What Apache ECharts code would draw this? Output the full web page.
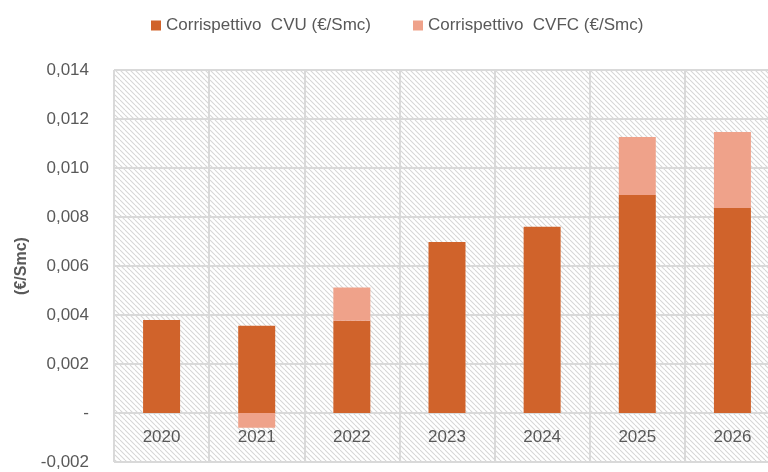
<!DOCTYPE html>
<html>
<head>
<meta charset="utf-8">
<script src="https://cdn.jsdelivr.net/npm/echarts@6/dist/echarts.min.js"></script>
<style>
  html, body { margin: 0; padding: 0; background: #fff; }
  #chart { width: 768px; height: 472px; }
</style>
</head>
<body>
<div id="chart"></div>
<script>
// values
const years = ['2020', '2021', '2022', '2023', '2024', '2025', '2026'];
const cvu = [0.0038, 0.00356, 0.00377, 0.00698, 0.0076, 0.0089, 0.00837];
const cvfc = [0, -0.0006, 0.00135, 0, 0, 0.00237, 0.0031];

const font = "'Liberation Sans', Arial, sans-serif";

// diagonal hatch for the plot background
function hatch() {
  const c = document.createElement('canvas');
  c.width = 5; c.height = 5;
  const ctx = c.getContext('2d');
  ctx.fillStyle = '#fff';
  ctx.fillRect(0, 0, 5, 5);
  ctx.strokeStyle = '#d6d6d6';
  ctx.lineWidth = 1.1;
  [-5, 0, 5].forEach(k => {
    ctx.beginPath();
    ctx.moveTo(k, 0);
    ctx.lineTo(k + 5, 5);
    ctx.stroke();
  });
  return c;
}

function fmt(v) {
  if (Math.abs(v) < 1e-9) return '-';
  return v.toFixed(3).replace('.', ',');
}

const chart = echarts.init(document.getElementById('chart'));
chart.setOption({
  animation: false,
  textStyle: { fontFamily: font },
  legend: {
    top: 12,
    left: 146,
    itemWidth: 10,
    itemHeight: 10,
    itemGap: 42,
    icon: 'rect',
    textStyle: { fontSize: 17, color: '#595959', fontFamily: font },
    data: ['Corrispettivo  CVU (€/Smc)', 'Corrispettivo  CVFC (€/Smc)']
  },
  grid: {
    left: 114,
    right: -12,
    top: 70,
    bottom: 10,
    containLabel: false,
    outerBoundsMode: 'none',
    show: true,
    borderWidth: 0,
    backgroundColor: { image: hatch(), repeat: 'repeat' }
  },
  xAxis: {
    type: 'category',
    data: years,
    position: 'bottom',
    offset: -49,
    axisLine: { show: false, onZero: false },
    axisTick: { show: false },
    axisLabel: { fontSize: 17, color: '#595959', margin: 16, fontFamily: font },
    splitLine: { show: true, lineStyle: { color: '#d9d9d9', width: 2 } }
  },
  yAxis: {
    type: 'value',
    min: -0.002,
    max: 0.014,
    interval: 0.002,
    name: '(€/Smc)',
    nameLocation: 'middle',
    nameGap: 82,
    nameTextStyle: { fontSize: 16, fontWeight: 'bold', color: '#595959', fontFamily: font },
    axisLine: { show: false },
    axisTick: { show: false },
    axisLabel: { fontSize: 17, color: '#595959', margin: 25, formatter: fmt, fontFamily: font },
    splitLine: { show: true, lineStyle: { color: '#d9d9d9', width: 2 } }
  },
  series: [
    {
      name: 'Corrispettivo  CVU (€/Smc)',
      type: 'bar',
      stack: 'tot',
      barWidth: 37,
      itemStyle: { color: '#D0632B' },
      data: cvu
    },
    {
      name: 'Corrispettivo  CVFC (€/Smc)',
      type: 'bar',
      stack: 'tot',
      barWidth: 37,
      itemStyle: { color: '#EFA28A' },
      data: cvfc
    }
  ]
});
</script>
</body>
</html>
